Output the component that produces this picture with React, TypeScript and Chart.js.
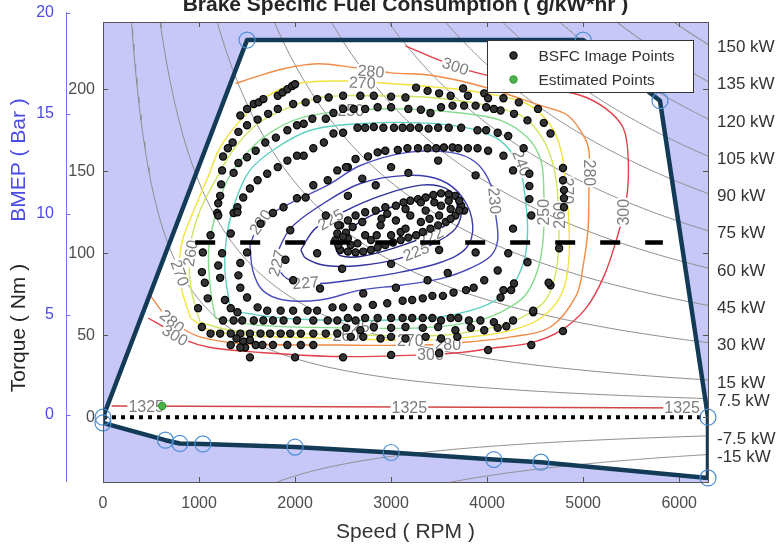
import React, { useEffect, useRef } from "react";
import { Chart, registerables } from "chart.js";

Chart.register(...registerables);

const FONT = "'Liberation Sans', Arial, Helvetica, sans-serif";
Chart.defaults.font.family = FONT;

// ---------- axes ----------
const RPM_MAX = 6300;
const TORQUE_MIN = -39.5;
const TORQUE_BOX_TOP = 241;
const TORQUE_AXIS_MAX = 247.1;
const BMEP_MIN = -3.33;
const BMEP_MAX = 20.05;
const speedTicks = [0, 1000, 2000, 3000, 4000, 5000, 6000];
const torqueTicks = [0, 50, 100, 150, 200];
const bmepTicks = [0, 5, 10, 15, 20];
const powerLevelsKW = [150, 135, 120, 105, 90, 75, 60, 45, 30, 15, 7.5, -7.5, -15];

// ---------- engine envelope ----------
const fullLoadRpm = [0, 1500, 5000, 5800, 6300];
const fullLoadTorque = [0, 230, 230, 193, 0];
const motoringRpm = [0, 650, 800, 1040, 2000, 3000, 4070, 4560, 6300];
const motoringTorque = [-3.5, -14, -16, -16.3, -18.2, -21.5, -25.8, -27.4, -37];

const dashedLineRpm = [960, 5830];
const dashedLineTorque = [106.6, 106.6];
const zeroLineRpm = [0, 6300];
const zeroLineTorque = [0, 0];

const estimatedPoints = [[616, 6.8]];

// ---------- BSFC contours (rpm, Nm) ----------
const contour222 = [[2420,103],[2530,112.5],[2790,123],[3200,132],[3520,136.5],[3680,132],[3640,121],[3390,111],[3020,103],[2680,98],[2470,98.5],[2420,103]];
const contour225 = [[2060,102],[2210,115],[2530,126],[2890,135],[3310,141.5],[3570,139.5],[3730,129],[3670,115],[3410,105],[3100,97],[2680,92.5],[2320,92.5],[2110,97],[2060,102]];
const contour227 = [[1800,98.5],[1950,115],[2260,129],[2680,142.5],[3170,147.5],[3520,144.5],[3750,133.5],[3850,117],[3780,103],[3520,94.5],[3100,88.5],[2680,84.5],[2260,81.5],[1950,83.5],[1820,91],[1800,98.5]];
const contour230 = [[1530,105],[1640,119],[1900,129],[2340,141.5],[2680,153.5],[3170,161.5],[3620,161.5],[3880,155.5],[4040,141.5],[4090,123],[4110,108],[4040,98.5],[3830,91],[3520,84.5],[3100,80.5],[2680,77.5],[2260,71.5],[1880,71.5],[1660,77.5],[1560,89.5],[1530,105]];
const contour240 = [[1330,65],[1850,60.5],[2580,59],[3410,60.5],[3930,67],[4220,77.5],[4370,92.5],[4420,111],[4400,132],[4330,153.5],[4140,168.5],[3830,176],[3310,179.5],[2680,179],[2160,175],[1800,164],[1530,150.5],[1380,132],[1290,111],[1270,89.5],[1330,65]];
const contour250 = [[1170,60.5],[1640,56],[2580,54.5],[3310,54.5],[3830,58],[4140,64],[4400,74.5],[4540,92.5],[4590,114],[4590,138],[4560,156.5],[4420,170.5],[4140,181],[3730,185.5],[3100,188],[2580,187],[2060,182.5],[1690,171.5],[1430,156.5],[1270,141.5],[1170,123],[1100,102],[1120,77.5],[1170,60.5]];
const contour260 = [[1010,58],[1330,53],[2060,51],[2790,50],[3520,50],[4040,54.5],[4350,60.5],[4610,71.5],[4720,89.5],[4750,114],[4740,132],[4690,153.5],[4560,171.5],[4350,184],[3930,191],[3410,195],[2790,196],[2260,195],[1900,188],[1590,178],[1350,162.5],[1170,144.5],[1010,126],[910,105],[910,80.5],[1010,58]];
const contour270 = [[910,60.5],[1120,53],[1640,49.5],[2470,48],[3310,47],[3830,49],[4250,53],[4560,60.5],[4770,74.5],[4850,95.5],[4850,120],[4820,141.5],[4770,162.5],[4660,178],[4420,191],[3930,198],[3520,201],[3100,203],[2500,205],[2020,203.5],[1690,195],[1430,181],[1220,164.5],[1090,146],[960,128],[820,106],[800,83.5],[910,60.5]];
const contour280 = [[490,74.5],[650,62],[800,55],[1010,49],[1430,45],[2470,44],[3310,44],[3830,46],[4250,49],[4660,55],[4930,74.5],[5000,92.5],[5050,114],[5060,138],[5060,162.5],[5000,172],[4840,184],[4560,190],[3930,202],[3410,208.5],[3000,210],[2580,213.5],[2230,215.5],[1880,212.5],[1590,207.5],[1380,203.5]];
const contour300 = [[470,60.5],[650,54.5],[860,47],[1120,42.5],[1640,39.5],[2470,37],[3310,38],[3730,39.5],[4040,42],[4460,45.5],[4770,53],[5030,66.5],[5220,86.5],[5360,111],[5450,132],[5470,156.5],[5420,176],[5240,188],[4960,196.5],[4400,203],[3830,211],[3470,218.5],[3150,226.5]];
const contour1325 = [[90,6.8],[6230,5.6]];

const contourLevels = ["222", "225", "227", "230", "240", "250", "260", "270", "280", "300"];
const contourColors = ["#232382", "#31319a", "#3c3cae", "#4d4dc0", "#5ccfc0", "#84dc8c", "#cfe661", "#f2e33d", "#f08a45", "#e2404a"];
const contourLines = [contour222, contour225, contour227, contour230, contour240, contour250, contour260, contour270, contour280, contour300];

// label text, rpm, Nm, angle (deg)
const contourLabels: [string, number, number, number][] = [
  ["280", 2790, 211, 5], ["270", 2700, 204, 3], ["300", 3670, 214, 19], ["250", 2580, 187, 0],
  ["280", 5060, 149, 90], ["270", 4840, 138, 90], ["260", 4750, 123, -90], ["250", 4590, 125, -90],
  ["300", 5420, 125, -90], ["240", 4360, 155, 70], ["230", 4080, 132, 85],
  ["260", 910, 100, -80], ["270", 800, 88, 70], ["280", 720, 58.5, 40], ["300", 750, 50, 30],
  ["230", 1640, 119, -55], ["227", 1810, 94, -75], ["227", 2110, 82, -5], ["225", 2370, 120.5, -30],
  ["225", 3260, 101, -22], ["222", 3410, 110, -25],
  ["250", 2730, 55, 0], ["260", 2530, 50, 0], ["270", 3200, 47, 0], ["280", 3590, 44.5, 0], ["300", 3410, 38, 0],
  ["1325", 450, 6.7, 0], ["1325", 3190, 5.9, 0], ["1325", 6030, 5.6, 0],
];

// ---------- BSFC image points (rpm, Nm) ----------
const dotsTopLeft = [
  [1820,196],[1870,198],[1920,200],[1970,202],[2000,203],
  [1430,184],[1500,188],[1570,191],[1620,192],[1670,194],
  [1410,174],[1500,178],[1610,181.5],
  [1350,167.5],[1300,164],[1250,159],[1240,150.5],[1230,142],
  [1220,135],[1200,130.5],[1190,124.5],
  [1720,185],[1820,188],
  [1980,191],[2110,192],[2230,194],[2350,195],
  [1920,175],[2020,178],[2090,179],
  [1800,170.5],[1690,167.5],[1590,162.5],[1500,158.5],[1410,155],[1360,149],
  [1610,144.5],[1530,139.5],[1460,134],[1400,128],[1360,124.5],
  [1710,148.5],[1820,152.5],[1920,156.5],[2020,159.5],[2090,159.5],
  [2190,164],[2300,167.5],[2400,173],
  [2180,182],[2320,182],[2400,185.5],
  [2190,141.5],[2110,134],[2020,133.5],[1880,128],[1770,124.5],
  [2340,144.5],[2440,150.5],[2550,152.5],
  [2550,135],
];
const dotsTop = [
  [2500,196],[2680,196],[2820,196],[3000,195.5],[3150,195],[3260,201],[3380,199],[3500,197.5],[3620,196],[3750,200.5],[3800,196],[3970,197.5],[4010,194.5],[4170,194.5],[4330,192],
  [2500,188],[2610,188],[2730,188],[2860,189],[3000,189],[3180,188],[3310,187.5],[3410,185.5],[3520,189],[3640,190],[3760,190],[3880,190],[3990,189],[4070,188],[4140,187],[4280,185],[4420,181],[4530,188],[4590,179.5],[4660,173],
  [2500,173.5],[2650,176.5],[2730,176.5],[2820,177],[2920,176.5],[3030,176.5],[3120,176.5],[3200,176.5],[3290,176.5],[3390,176],[3490,176.5],[3600,176.5],[3730,176.5],[3900,175],[3990,175],[4110,173.5],[4220,171.5],[4380,164],
  [2630,157.5],[2760,159],[2860,161.5],[2940,162.5],[3070,163],[3170,164],[3280,164],[3380,164],[3470,164],[3550,164.5],[3640,164.5],[3700,164],[3800,164],[3900,164],[4010,162.5],[4170,159.5],[4270,150.5],
  [2530,152.5],[3000,152.5],[3490,156.5],[3180,149],[2840,141.5],[2700,145.5],[3880,147.5],[3760,126],
];
const dotsRight = [
  [4790,152],[4790,144.5],[4800,138.5],[4800,133.5],[4800,128],[4440,148.5],[4440,141],[4440,133],[4460,123],
  [4270,115],[4220,100],[4420,94.5],[4750,103],[4660,80.5],[4280,81.5],[4250,77.5],[4480,64],[4270,59],
  [4200,55.5],[4140,73],[4460,44],[4790,52.5],[4640,82],[4170,77.5],
];
const dotsBottom = [
  [2500,67],[2650,67],[2810,68.5],[2960,69.5],[3120,71],[3220,71.5],[3330,72.5],[3430,74],[3540,74],[3650,76],[3780,77.5],[3860,79],[3970,83.5],[4110,89.5],
  [2550,60.5],[2630,59],[2730,60.5],[2860,60.5],[3000,60.5],[3120,60.5],[3220,60.5],[3330,60.5],[3430,60.5],[3520,59],[3620,60.5],[3700,60.5],[3810,59],[3930,59],[4070,58],[4480,65],
  [2530,54.5],[2680,53],[2820,55],[3000,54.5],[3150,55],[3330,54.5],[3490,55],[3670,53],[3830,54.5],[3970,53],[4110,54.5],
  [2580,49],[2710,49],[2890,48],[3000,49],[3150,48],[3360,49],[3520,48],[3690,49],
  [1530,36.5],[2000,36.5],[2500,36.5],[3000,38],[3500,39],[4010,41],
];
const dotsCenter = [
  [2420,108],[2470,117],[2630,123],[2840,126],[3050,129],[3200,132],[3360,134],[3520,136.5],[3670,135],[3730,129],[3670,123],[3570,119],[3410,115],[3260,111],[3100,108],[2940,105],[2790,102],[2630,100.5],[2470,102],
  [2440,112],[2550,120],[2730,125],[2940,128],[3130,131],[3280,133],[3440,135.5],[3600,136],[3710,132],[3710,126],[3620,121],[3490,117],[3330,113],[3180,109.5],[3020,106.5],[2860,103.5],[2710,101],[2550,101],
  [2530,112.5],[2580,105],[2700,119],[2960,124],[3310,131],[3600,132],[3500,123],[2790,108],[2550,109],[2450,105],
  [2500,110],[2600,116],[2900,121],[3150,127],[3450,131],[3620,127],[3400,121],[3100,113],[2850,111],[2650,106],
  [2890,117],[3050,120],[3200,123],[3360,126],[3520,129],[2730,111],[3000,111],[3310,119],[3150,115],
  [3000,93.5],[3590,88],[3380,83.5],[3050,79],[2710,75.5],[3880,100.5],[3500,102],[2490,90.5],[1640,118],[1950,114],
  [2320,123],[2450,117],[2230,100],[1900,96],[1980,83.5],[2260,78.5],
];
const dotsLeft = [
  [1200,123],[1120,111],[1040,100.5],[1030,88.5],[1060,82],[1090,72.5],[990,66.5],[1030,55],[1120,51],
  [1400,125],[1330,112],[1240,100],[1200,92.5],[1220,85],[1270,71.5],[1330,66.5],[1400,64],
  [1500,100.5],[1430,94],[1410,86.5],[1430,79],[1500,73],[1610,67],[1710,65],[1850,65],[1980,65],[2130,65],[2230,65],[2390,67],
  [1250,59],[1360,59],[1450,59],[1570,59],[1670,59],[1770,59],[1880,59],[2020,59],[2190,59],[2340,59],[2440,59],
  [1220,51],[1330,51],[1430,51],[1530,51],[1640,51],[1740,51],[1850,51],[1950,51],[2060,51],[2190,51],[2320,51],[2440,51],
  [1390,48],[1460,46],[1530,47],[1480,42.5],[1590,44],
  [1330,44],[1430,42.5],[1660,44],[1770,44],[1920,44],[2060,44],[2190,44],
];

// ---------- helpers ----------
const xy = (pairs: number[][]) => pairs.map(([x, y]) => ({ x, y }));
const RAD_PER_RPM = (2 * Math.PI) / 60;
const torqueAt = (kw: number, rpm: number) => (kw * 1000) / (rpm * RAD_PER_RPM);
const powerCurve = (kw: number) => {
  const edge = kw > 0 ? TORQUE_BOX_TOP : TORQUE_MIN;
  const start = (kw * 1000) / (edge * RAD_PER_RPM);
  const pts = [];
  const n = 160;
  for (let i = 0; i <= n; i++) {
    const rpm = start * Math.pow(RPM_MAX / start, i / n);
    pts.push({ x: rpm, y: torqueAt(kw, rpm) });
  }
  return pts;
};

const fullLoadPts = fullLoadRpm.map((r, i) => [r, fullLoadTorque[i]]);
const motoringPts = motoringRpm.map((r, i) => [r, motoringTorque[i]]);
const envelopePolygon = [...fullLoadPts, ...[...motoringPts].reverse(), fullLoadPts[0]];
const allDots = [...dotsTopLeft, ...dotsTop, ...dotsRight, ...dotsBottom, ...dotsCenter, ...dotsLeft];

const decorPlugin = {
  id: "decor",
  beforeDatasetsDraw(chart: any) {
    const { ctx } = chart;
    const x = chart.scales.x, y = chart.scales.y;
    const L = x.getPixelForValue(0), R = x.getPixelForValue(RPM_MAX);
    const T = y.getPixelForValue(TORQUE_BOX_TOP), B = y.getPixelForValue(TORQUE_MIN);
    ctx.save();
    ctx.fillStyle = "#c8c8f8";
    ctx.fillRect(L, T, R - L, B - T);
    ctx.restore();
  },
  afterDatasetDraw(chart: any, args: any) {
    if (chart.data.datasets[args.index].label !== "BSFC 1325") return;
    const { ctx } = chart;
    const x = chart.scales.x, y = chart.scales.y;
    ctx.save();
    ctx.font = `16px ${FONT}`;
    ctx.textAlign = "center";
    ctx.textBaseline = "middle";
    for (const [text, rpm, tq, ang] of contourLabels) {
      ctx.save();
      ctx.translate(x.getPixelForValue(rpm), y.getPixelForValue(tq));
      ctx.rotate((ang * Math.PI) / 180);
      const w = ctx.measureText(text).width;
      ctx.fillStyle = "#ffffff";
      ctx.fillRect(-w / 2 - 1, -6, w + 2, 12);
      ctx.fillStyle = "#7d7d7d";
      ctx.fillText(text, 0, 1);
      ctx.restore();
    }
    ctx.restore();
  },
  afterDraw(chart: any) {
    const { ctx } = chart;
    const x = chart.scales.x, y = chart.scales.y, bm = chart.scales.bmep;
    const L = x.getPixelForValue(0), R = x.getPixelForValue(RPM_MAX);
    const T = y.getPixelForValue(TORQUE_BOX_TOP), B = y.getPixelForValue(TORQUE_MIN);
    const line = (x1: number, y1: number, x2: number, y2: number) => {
      ctx.beginPath(); ctx.moveTo(x1, y1); ctx.lineTo(x2, y2); ctx.stroke();
    };
    ctx.save();
    // box
    ctx.strokeStyle = "#555555";
    ctx.lineWidth = 1;
    ctx.strokeRect(Math.round(L) + 0.5, Math.round(T) + 0.5, Math.round(R - L), Math.round(B - T));
    for (const v of speedTicks) {
      const px = Math.round(x.getPixelForValue(v)) + 0.5;
      line(px, B, px, B - 5); line(px, T, px, T + 5);
    }
    for (const v of torqueTicks) {
      const py = Math.round(y.getPixelForValue(v)) + 0.5;
      line(L, py, L + 5, py); line(R, py, R - 5, py);
    }
    // BMEP axis line
    ctx.strokeStyle = "#7272ee";
    const ax = Math.round(bm.right) + 0.5;
    line(ax, bm.top, ax, bm.bottom);
    for (const v of bmepTicks) {
      const py = Math.round(bm.getPixelForValue(v)) + 0.5;
      line(ax, py, ax + 4, py);
    }
    // y titles
    ctx.font = `21px ${FONT}`;
    ctx.textAlign = "center";
    ctx.textBaseline = "middle";
    ctx.save();
    ctx.translate(19, 338);
    ctx.rotate(-Math.PI / 2);
    ctx.fillStyle = "#262626";
    ctx.fillText("Torque ( Nm )", 0, 0);
    ctx.restore();
    ctx.save();
    ctx.translate(19, 170);
    ctx.rotate(-Math.PI / 2);
    ctx.fillStyle = "#4b4be6";
    ctx.fillText("BMEP ( Bar )", 0, 0);
    ctx.restore();
    // legend
    const legendSets = chart.data.datasets.filter((d: any) => d.label === "BSFC Image Points" || d.label === "Estimated Points");
    const lw = 206, lh = 52;
    const lx = Math.round(R - 221) + 0.5, ly = Math.round(T + 18) + 0.5;
    ctx.fillStyle = "#ffffff";
    ctx.fillRect(lx, ly, lw, lh);
    ctx.strokeStyle = "#333333";
    ctx.strokeRect(lx, ly, lw, lh);
    ctx.font = `15.5px ${FONT}`;
    ctx.textAlign = "left";
    legendSets.forEach((d: any, i: number) => {
      const cy = ly + 15 + i * 24;
      ctx.beginPath();
      ctx.arc(lx + 26, cy, 3.6, 0, Math.PI * 2);
      ctx.fillStyle = d.backgroundColor;
      ctx.fill();
      ctx.lineWidth = 1.2;
      ctx.strokeStyle = d.borderColor;
      ctx.stroke();
      ctx.fillStyle = "#333333";
      ctx.fillText(d.label, lx + 51, cy + 1);
    });
    ctx.restore();
  },
};

export default function App() {
  const ref = useRef<HTMLCanvasElement>(null);
  useEffect(() => {
    const canvas = ref.current;
    if (!canvas) return;
    const datasets: any[] = [
      { type: "line", label: "envelope-fill", data: xy(envelopePolygon), fill: "shape", backgroundColor: "#ffffff", borderWidth: 0, pointRadius: 0, order: 100 },
      ...powerLevelsKW.map((kw) => ({ type: "line", label: `${kw} kW`, data: powerCurve(kw), borderColor: "#8e8e8e", borderWidth: 1, pointRadius: 0, fill: false, order: 90 })),
      ...contourLines.map((pts, i) => ({ type: "line", label: `BSFC ${contourLevels[i]}`, data: xy(pts), borderColor: contourColors[i], borderWidth: 1.4, pointRadius: 0, tension: 0.35, fill: false, order: 80 })),
      { type: "line", label: "BSFC 1325", data: xy(contour1325), borderColor: "#d04545", borderWidth: 1.4, pointRadius: 0, fill: false, order: 70 },
      { type: "line", label: "zero", data: xy(zeroLineRpm.map((r, i) => [r, zeroLineTorque[i]])), borderColor: "#000000", borderWidth: 4, borderDash: [4, 5], borderCapStyle: "butt", pointRadius: 0, fill: false, order: 60 },
      { type: "line", label: "envelope", data: xy(envelopePolygon), borderColor: "#133b57", borderWidth: 4.5, borderJoinStyle: "round", pointRadius: 0, fill: false, order: 50 },
      { type: "scatter", label: "envelope-points", data: xy([...fullLoadPts, ...motoringPts]), pointRadius: 8, backgroundColor: "rgba(0,0,0,0)", borderColor: "#4a8fd4", pointBorderWidth: 1.2, clip: false, order: 40 },
      { type: "scatter", label: "BSFC Image Points", data: xy(allDots), pointRadius: 3.6, backgroundColor: "#333333", borderColor: "#000000", pointBorderWidth: 1.2, order: 30 },
      { type: "line", label: "dashed", data: xy(dashedLineRpm.map((r, i) => [r, dashedLineTorque[i]])), borderColor: "#000000", borderWidth: 4.5, borderDash: [20, 25], borderCapStyle: "butt", pointRadius: 0, fill: false, order: 25 },
      { type: "scatter", label: "Estimated Points", data: xy(estimatedPoints), pointRadius: 3.6, backgroundColor: "#4db34d", borderColor: "#3a9a3a", pointBorderWidth: 1.2, order: 20 },
    ];
    const noGrid = { display: false, drawTicks: false, tickLength: 0 };
    const chart = new Chart(canvas, {
      type: "scatter",
      data: { datasets },
      plugins: [decorPlugin],
      options: {
        responsive: false,
        animation: false,
        events: [],
        layout: { padding: 0 },
        plugins: {
          legend: { display: false },
          tooltip: { enabled: false },
          title: {
            display: true,
            fullSize: false,
            text: "Brake Specific Fuel Consumption ( g/kW*hr )",
            color: "#262626",
            font: { size: 21, weight: "bold", family: FONT },
            padding: { top: 3, bottom: -6.2 },
          },
        },
        scales: {
          x: {
            type: "linear", position: "bottom", min: 0, max: RPM_MAX,
            afterBuildTicks: (s: any) => { s.ticks = speedTicks.map((v) => ({ value: v })); },
            afterFit: (s: any) => { s.height = 68; },
            grid: noGrid, border: { display: false },
            ticks: { color: "#4d4d4d", font: { size: 16 }, padding: 12, autoSkip: false, maxRotation: 0, callback: (v: any) => String(v) },
            title: { display: true, text: "Speed ( RPM )", color: "#333333", font: { size: 21 }, padding: { top: 0, bottom: 5 } },
          },
          y: {
            type: "linear", position: "left", weight: 0, min: TORQUE_MIN, max: TORQUE_AXIS_MAX,
            afterBuildTicks: (s: any) => { s.ticks = torqueTicks.map((v) => ({ value: v })); },
            afterFit: (s: any) => { s.width = 37; },
            grid: noGrid, border: { display: false },
            ticks: { color: "#4d4d4d", font: { size: 16 }, padding: 8, autoSkip: false, callback: (v: any) => String(v) },
          },
          bmep: {
            type: "linear", position: "left", weight: 1, min: BMEP_MIN, max: BMEP_MAX,
            afterBuildTicks: (s: any) => { s.ticks = bmepTicks.map((v) => ({ value: v })); },
            afterFit: (s: any) => { s.width = 66; },
            grid: noGrid, border: { display: false },
            ticks: { color: "#4b4be6", font: { size: 16 }, padding: 12, autoSkip: false, callback: (v: any) => String(v) },
          },
          power: {
            type: "linear", position: "right", min: TORQUE_MIN, max: TORQUE_AXIS_MAX,
            afterBuildTicks: (s: any) => { s.ticks = powerLevelsKW.map((kw) => ({ value: torqueAt(kw, RPM_MAX) })); },
            afterFit: (s: any) => { s.width = 71; },
            grid: noGrid, border: { display: false },
            ticks: { color: "#333333", font: { size: 17 }, padding: 9, autoSkip: false, labelOffset: 3, callback: (_v: any, i: number) => `${powerLevelsKW[i]} kW` },
          },
        },
      } as any,
    } as any);
    return () => chart.destroy();
  }, []);
  return (
    <canvas
      ref={ref}
      width={779}
      height={560}
      style={{ position: "absolute", left: 0, top: -10, width: 779, height: 560 }}
    />
  );
}
